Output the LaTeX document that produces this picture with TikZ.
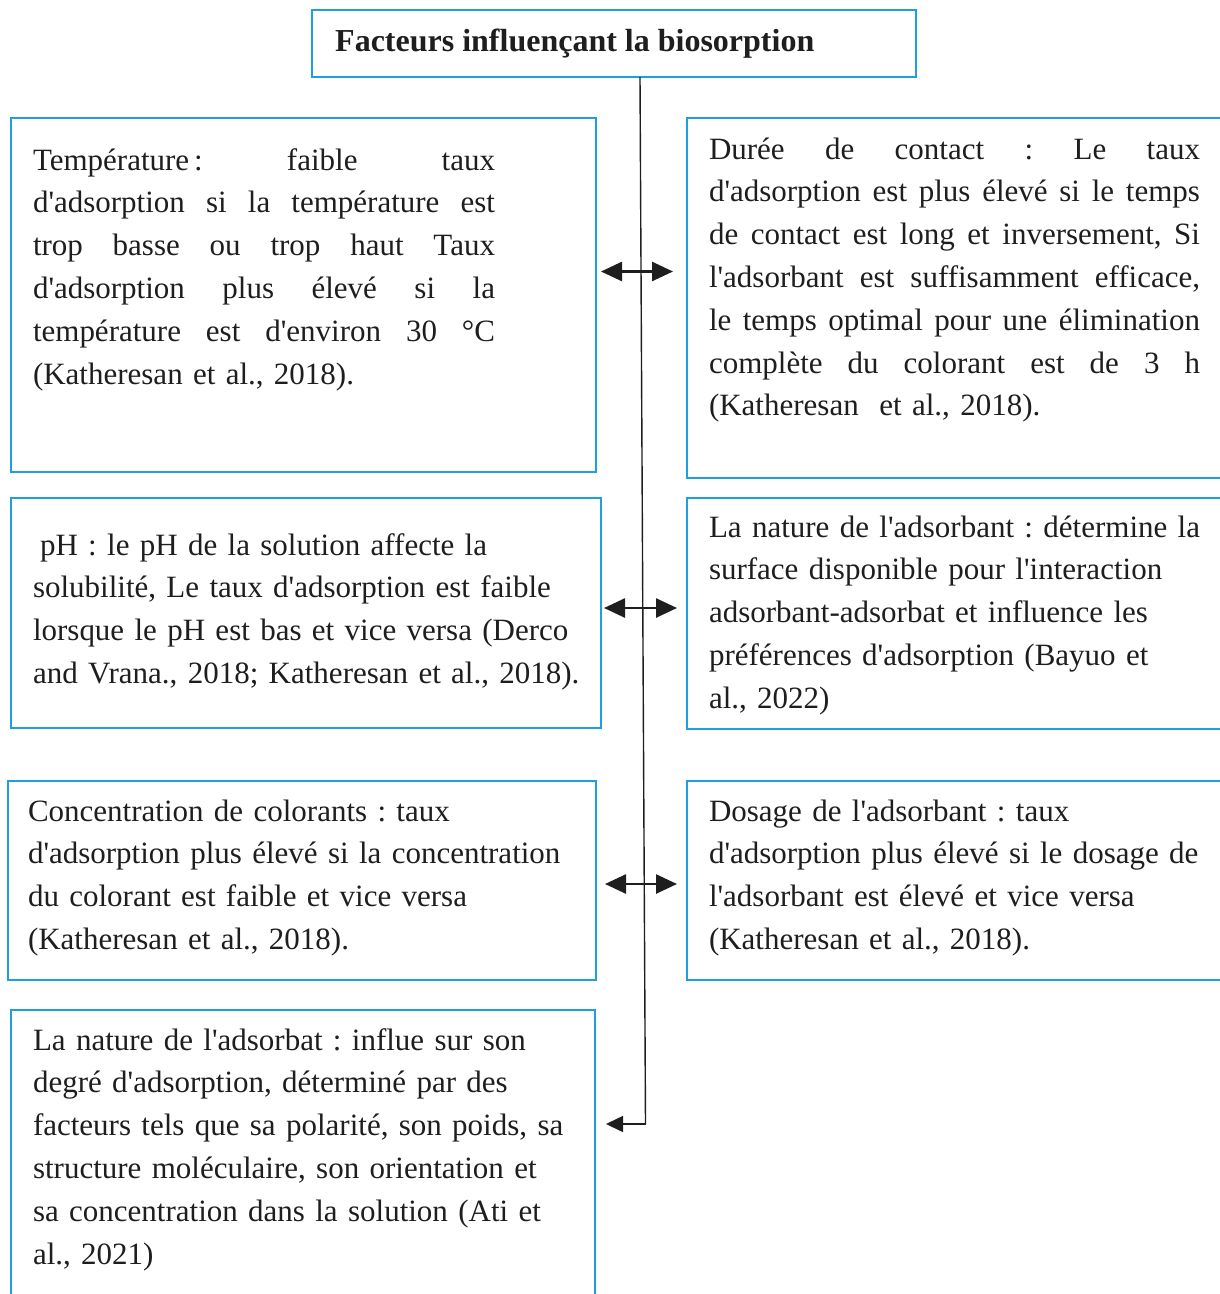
\documentclass[tikz,border=0pt]{standalone}
\usepackage{fontspec}
\newfontfamily\tnr{Liberation Serif}
\usetikzlibrary{arrows.meta}
\definecolor{boxblue}{RGB}{30,160,220}
\definecolor{ink}{RGB}{30,30,30}
\frenchspacing
\tikzset{
  boxnode/.style={draw=boxblue, line width=2.8pt, rectangle, inner sep=0pt, outer sep=0pt, anchor=north west},
  txt/.style={font=\tnr\frenchspacing\fontsize{31}{42.8}\selectfont, text=ink, inner sep=0pt, outer sep=0pt, anchor=base west, text width=590pt, align=left},
  ttl/.style={font=\tnr\bfseries\fontsize{32}{40}\selectfont, text=ink, inner sep=0pt, anchor=base west},
  link/.style={draw=ink, line width=1.4pt},
  dbl/.style={draw=ink, line width=2.6pt, {Triangle[length=21pt,width=19pt]}-{Triangle[length=21pt,width=19pt]}},
  sgl/.style={draw=ink, line width=1.6pt, -{Triangle[length=17pt,width=16pt]}}
}
\newcommand{\jl}[2]{\leavevmode\hbox to #1pt{\spaceskip=0.25em plus 1fil\xspaceskip=0.25em plus 1fil\relax #2}}
\begin{document}
\begin{tikzpicture}[x=1pt,y=-1pt]
\useasboundingbox (0,0) rectangle (1220,1294);
\clip (0,0) rectangle (1220,1294);
% boxes
\node[boxnode, minimum width=604pt, minimum height=67pt] (top) at (312,10) {};
\node[boxnode, minimum width=585pt, minimum height=354pt] (L1) at (11,118) {};
\node[boxnode, minimum width=560pt, minimum height=360pt] (R1) at (687,118) {};
\node[boxnode, minimum width=590pt, minimum height=230pt] (L2) at (11,498) {};
\node[boxnode, minimum width=560pt, minimum height=231pt] (R2) at (687,498) {};
\node[boxnode, minimum width=588pt, minimum height=199pt] (L3) at (8,781) {};
\node[boxnode, minimum width=560pt, minimum height=199pt] (R3) at (687,781) {};
\node[boxnode, minimum width=584pt, minimum height=330pt] (L4) at (11,1010) {};
% title
\node[ttl] (title) at (335,51) {Facteurs influençant la biosorption};
% texts
\node[txt] (tL1) at (33,170) {\jl{462}{Température\hspace{5pt}: faible taux}\\
\jl{462}{d'adsorption si la température est}\\
\jl{462}{trop basse ou trop haut Taux}\\
\jl{462}{d'adsorption plus élevé si la}\\
\jl{462}{température est d'environ 30 °C}\\
(Katheresan et al., 2018).};
\node[txt] (tR1) at (709,159) {\jl{491}{Durée de contact : Le taux}\\
\jl{491}{d'adsorption est plus élevé si le temps}\\
\jl{491}{de contact est long et inversement, Si}\\
\jl{491}{l'adsorbant est suffisamment efficace,}\\
\jl{491}{le temps optimal pour une élimination}\\
\jl{491}{complète du colorant est de 3 h}\\
(Katheresan\ \ et al., 2018).};
\node[txt] (tL2) at (33,555) {\hspace*{7pt}pH : le pH de la solution affecte la\\
solubilité, Le taux d'adsorption est faible\\
lorsque le pH est bas et vice versa (Derco\\
and Vrana., 2018; Katheresan et al., 2018).};
\node[txt] (tR2) at (709,537) {La nature de l'adsorbant : détermine la\\
surface disponible pour l'interaction\\
adsorbant-adsorbat et influence les\\
préférences d'adsorption (Bayuo et\\
al., 2022)};
\node[txt] (tL3) at (28,821) {Concentration de colorants : taux\\
d'adsorption plus élevé si la concentration\\
du colorant est faible et vice versa\\
(Katheresan et al., 2018).};
\node[txt] (tR3) at (709,821) {Dosage de l'adsorbant : taux\\
d'adsorption plus élevé si le dosage de\\
l'adsorbant est élevé et vice versa\\
(Katheresan et al., 2018).};
\node[txt] (tL4) at (33,1050) {La nature de l'adsorbat : influe sur son\\
degré d'adsorption, déterminé par des\\
facteurs tels que sa polarité, son poids, sa\\
structure moléculaire, son orientation et\\
sa concentration dans la solution (Ati et\\
al., 2021)};
% connectors
\coordinate (trunkend) at (645.5,1124);
\coordinate (a4) at (606,1124);
\coordinate (a1l) at (601,271.5);
\coordinate (a1r) at (673,271.5);
\coordinate (a2l) at (604,608);
\coordinate (a2r) at (677,608);
\coordinate (a3l) at (605,884);
\coordinate (a3r) at (677,884);
\draw[link] (top.south -| 640,0) -- (trunkend);
\draw[sgl] (trunkend) -- (a4);
\draw[dbl] (a1l) -- (a1r);
\draw[dbl] (a2l) -- (a2r);
\draw[dbl] (a3l) -- (a3r);
\end{tikzpicture}
\end{document}
